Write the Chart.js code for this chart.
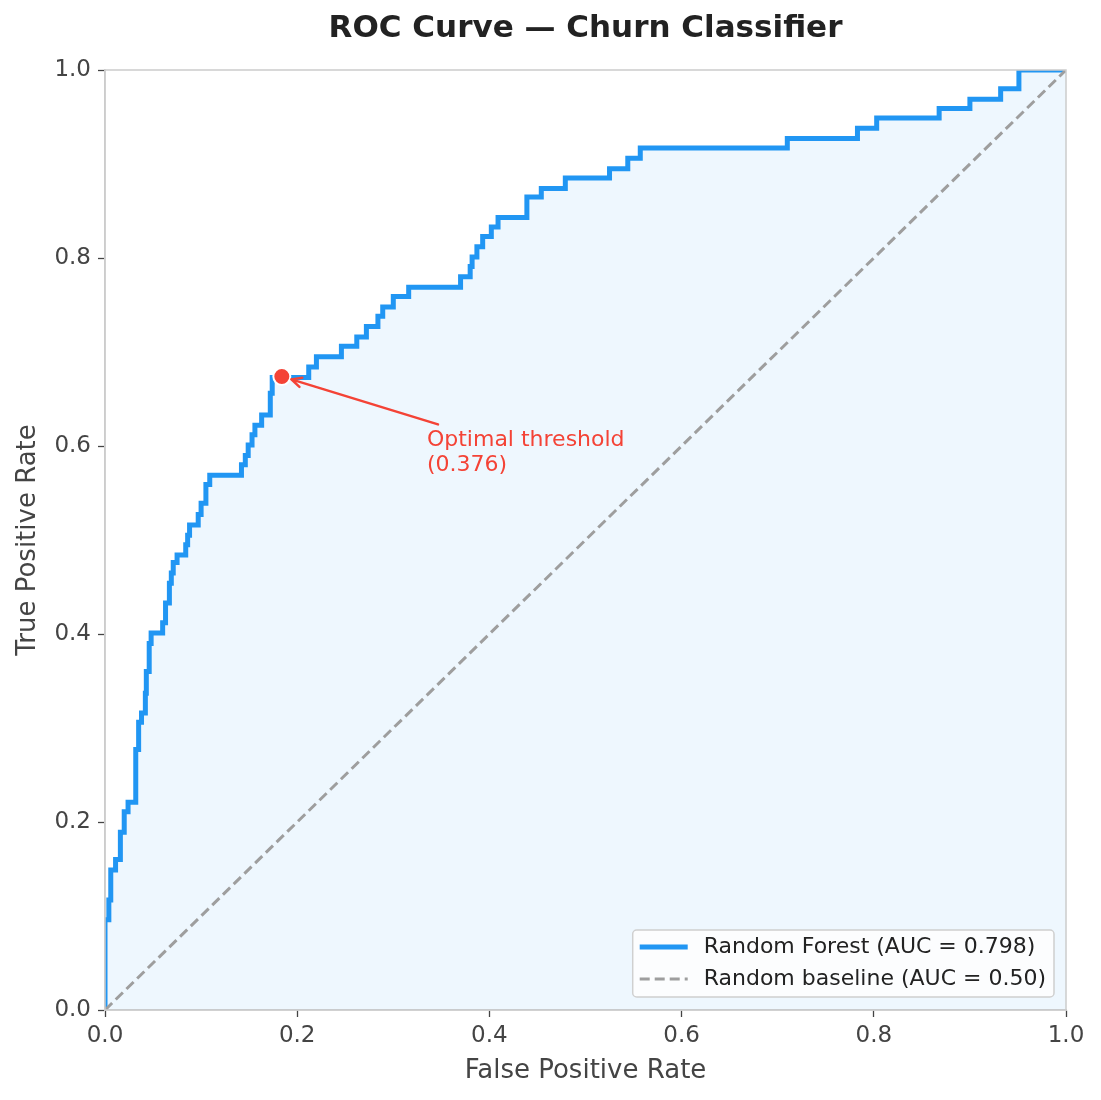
<!DOCTYPE html>
<html>
<head>
<meta charset="utf-8">
<script src="https://cdn.jsdelivr.net/npm/chart.js@4.4.1/dist/chart.umd.min.js"></script>
<style>
  body { margin: 0; background: #fff; }
  canvas { display: block; }
</style>
</head>
<body>
<canvas id="rocChart" width="1101" height="1100"></canvas>
<script>
// ROC curve corners (top of each vertical step)
const fpr = [0, 0, 0.004, 0.006, 0.011, 0.016, 0.020, 0.024, 0.032, 0.035, 0.038, 0.042, 0.043, 0.046, 0.048,
  0.060, 0.063, 0.067, 0.069, 0.071, 0.075, 0.084, 0.086, 0.088, 0.097, 0.100, 0.105, 0.109, 0.142, 0.146,
  0.149, 0.153, 0.156, 0.163, 0.172, 0.174, 0.212, 0.220, 0.246, 0.262, 0.272, 0.284, 0.289, 0.300, 0.316,
  0.370, 0.380, 0.382, 0.387, 0.393, 0.402, 0.409, 0.439, 0.454, 0.479, 0.525, 0.544, 0.557, 0.710, 0.783,
  0.803, 0.868, 0.900, 0.932, 0.951, 1.0];
const tpr = [0, 0.096, 0.117, 0.149, 0.160, 0.189, 0.211, 0.221, 0.277, 0.306, 0.316, 0.337, 0.360, 0.390, 0.401,
  0.412, 0.433, 0.454, 0.465, 0.476, 0.484, 0.495, 0.505, 0.516, 0.527, 0.539, 0.559, 0.569, 0.580, 0.590,
  0.601, 0.612, 0.622, 0.633, 0.656, 0.673, 0.684, 0.695, 0.706, 0.716, 0.727, 0.738, 0.748, 0.759, 0.769,
  0.780, 0.791, 0.801, 0.812, 0.823, 0.833, 0.843, 0.865, 0.874, 0.885, 0.895, 0.906, 0.917, 0.927, 0.938,
  0.949, 0.959, 0.969, 0.980, 1.0, 1.0];

const baselineX = [0, 1];
const baselineY = [0, 1];

const optimalPoint = [0.184, 0.674];
const annotationLines = ['Optimal threshold', '(0.376)'];
const annotationText = [0.335, 0.606];   // left edge, first line centre
const arrowFrom = [0.3465, 0.623];

const tickValues = [0, 0.2, 0.4, 0.6, 0.8, 1.0];

const labels = ['Random Forest (AUC = 0.798)', 'Random baseline (AUC = 0.50)'];

const FONT = "'DejaVu Sans', sans-serif";
const BLUE = '#2196F3';
const GREY = '#9E9E9E';
const RED = '#F44336';

const overlay = {
  id: 'overlay',
  afterDraw(chart) {
    const { ctx, chartArea: a, scales: { x, y } } = chart;
    ctx.save();

    // frame
    ctx.strokeStyle = '#cccccc';
    ctx.lineWidth = 1.5;
    ctx.strokeRect(a.left, a.top, a.right - a.left, a.bottom - a.top);

    // annotation arrow
    const px = x.getPixelForValue(optimalPoint[0]);
    const py = y.getPixelForValue(optimalPoint[1]);
    const sx = x.getPixelForValue(arrowFrom[0]);
    const sy = y.getPixelForValue(arrowFrom[1]);
    const len = Math.hypot(sx - px, sy - py);
    const ux = (sx - px) / len, uy = (sy - py) / len;
    const tx = px + ux * 10, ty = py + uy * 10;
    ctx.strokeStyle = RED;
    ctx.lineWidth = 2.5;
    ctx.lineCap = 'round';
    ctx.beginPath();
    ctx.moveTo(sx, sy);
    ctx.lineTo(tx, ty);
    const ang = Math.atan2(uy, ux);
    for (const d of [0.45, -0.45]) {
      ctx.moveTo(tx, ty);
      ctx.lineTo(tx + 11 * Math.cos(ang + d), ty + 11 * Math.sin(ang + d));
    }
    ctx.stroke();

    // annotation text
    ctx.fillStyle = RED;
    ctx.font = '22px ' + FONT;
    ctx.textAlign = 'left';
    ctx.textBaseline = 'middle';
    const lx = x.getPixelForValue(annotationText[0]);
    const ly = y.getPixelForValue(annotationText[1]);
    annotationLines.forEach((t, i) => ctx.fillText(t, lx, ly + i * 24.5));

    // legend
    ctx.font = '22px ' + FONT;
    const ds = chart.data.datasets;
    const textW = Math.max(...[0, 1].map(i => ctx.measureText(ds[i].label).width));
    const bw = 7 + 48 + 16 + textW + 8;
    const bh = 67;
    const bx = a.right - 12 - bw;
    const by = a.bottom - 13 - bh;
    ctx.fillStyle = 'rgba(255,255,255,0.85)';
    ctx.strokeStyle = '#d0d0d0';
    ctx.lineWidth = 1.5;
    ctx.beginPath();
    ctx.roundRect(bx, by, bw, bh, 4);
    ctx.fill();
    ctx.stroke();
    [0, 1].forEach(i => {
      const rowY = by + 17 + i * 32;
      ctx.strokeStyle = ds[i].borderColor;
      ctx.lineWidth = ds[i].borderWidth;
      ctx.lineCap = 'butt';
      ctx.setLineDash(ds[i].borderDash || []);
      ctx.beginPath();
      ctx.moveTo(bx + 7, rowY);
      ctx.lineTo(bx + 55, rowY);
      ctx.stroke();
      ctx.setLineDash([]);
      ctx.fillStyle = '#222';
      ctx.fillText(ds[i].label, bx + 71, rowY);
    });

    ctx.restore();
  }
};

const axisCommon = (title, pad) => ({
  type: 'linear',
  min: 0,
  max: 1,
  afterBuildTicks: s => { s.ticks = tickValues.map(v => ({ value: v })); },
  ticks: {
    padding: pad,
    color: '#444',
    font: { family: FONT, size: 23 },
    callback: v => v.toFixed(1)
  },
  grid: {
    display: true,
    drawOnChartArea: false,
    drawTicks: true,
    tickLength: 7,
    tickWidth: 1.3,
    tickColor: '#444'
  },
  border: { display: true, color: '#cccccc', width: 1.5 },
  title: {
    display: true,
    text: title,
    color: '#444',
    font: { family: FONT, size: 26 }
  }
});

const xAxis = axisCommon('False Positive Rate', 5);
xAxis.title.padding = { top: 4, bottom: 13 };
xAxis.afterFit = s => { s.height = 90; };
const yAxis = axisCommon('True Positive Rate', 7);
yAxis.title.padding = { top: 13, bottom: 4 };
yAxis.afterFit = s => { s.width = 105; };

new Chart(document.getElementById('rocChart'), {
  type: 'line',
  data: {
    datasets: [
      {
        label: labels[0],
        data: fpr.map((v, i) => ({ x: v, y: tpr[i] })),
        borderColor: BLUE,
        borderWidth: 5,
        backgroundColor: 'rgba(33,150,243,0.08)',
        fill: 'origin',
        stepped: true,
        pointRadius: 0,
        clip: 0,
        order: 2
      },
      {
        label: labels[1],
        data: baselineX.map((v, i) => ({ x: v, y: baselineY[i] })),
        borderColor: GREY,
        borderWidth: 3,
        borderDash: [10, 5],
        fill: false,
        pointRadius: 0,
        order: 1
      },
      {
        label: 'Optimal threshold',
        data: [{ x: optimalPoint[0], y: optimalPoint[1] }],
        showLine: false,
        pointRadius: 8.5,
        pointBackgroundColor: RED,
        pointBorderColor: '#ffffff',
        pointBorderWidth: 2,
        order: 0
      }
    ]
  },
  options: {
    responsive: false,
    devicePixelRatio: 1,
    animation: false,
    layout: { padding: { left: 0, right: 35, top: 0, bottom: 0 } },
    scales: { x: xAxis, y: yAxis },
    plugins: {
      legend: { display: false },
      tooltip: { enabled: false },
      title: {
        display: true,
        fullSize: false,
        text: 'ROC Curve — Churn Classifier',
        color: '#222',
        font: { family: FONT, size: 31, weight: 'bold' },
        padding: { top: 10.4, bottom: 22.4 }
      }
    }
  },
  plugins: [overlay]
});
</script>
</body>
</html>
